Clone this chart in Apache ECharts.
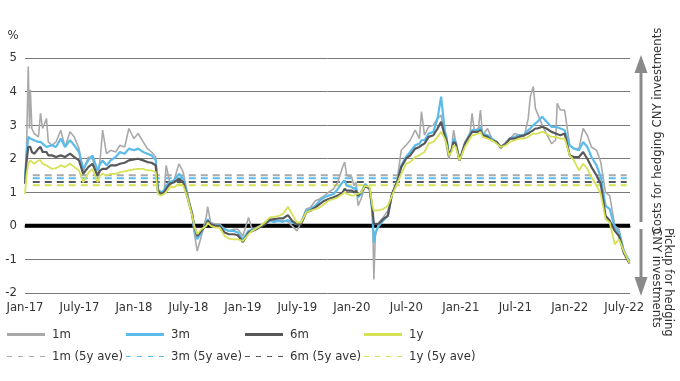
<!DOCTYPE html>
<html><head><meta charset="utf-8">
<script src="https://cdn.jsdelivr.net/npm/echarts@6/dist/echarts.min.js"></script>
<style>html,body{margin:0;padding:0;background:#fff}#c{width:680px;height:381px}</style>
</head><body><div id="c"></div>
<script>
// ---- data ----
const dates = ['2017-01-01','2017-01-06','2017-01-12','2017-01-16','2017-01-19','2017-01-24','2017-02-01','2017-02-15','2017-02-22','2017-03-01','2017-03-14','2017-03-20','2017-04-01','2017-04-15','2017-05-01','2017-05-15','2017-06-01','2017-06-15','2017-07-01','2017-07-15','2017-08-01','2017-08-15','2017-09-01','2017-09-10','2017-09-18','2017-10-01','2017-10-15','2017-11-01','2017-11-15','2017-12-01','2017-12-15',
'2018-01-01','2018-01-15','2018-02-01','2018-02-15','2018-03-01','2018-03-15','2018-03-22','2018-04-01','2018-04-12','2018-04-19','2018-05-01','2018-05-15','2018-06-01','2018-06-15','2018-07-01','2018-07-15','2018-07-22','2018-08-01','2018-08-15','2018-09-01','2018-09-05','2018-09-15','2018-10-01','2018-10-15','2018-11-01','2018-11-15','2018-12-01','2018-12-15',
'2019-01-01','2019-01-20','2019-02-01','2019-02-15','2019-03-01','2019-03-15','2019-04-01','2019-04-15','2019-05-01','2019-05-15','2019-06-01','2019-06-15','2019-07-01','2019-07-15','2019-08-01','2019-08-15','2019-09-01','2019-09-15','2019-10-01','2019-10-15','2019-11-01','2019-11-15','2019-12-01','2019-12-08','2019-12-15',
'2020-01-01','2020-01-08','2020-01-15','2020-01-22','2020-02-01','2020-02-15','2020-03-01','2020-03-10','2020-03-15','2020-03-20','2020-04-01','2020-04-15','2020-05-01','2020-05-15','2020-06-01','2020-06-15','2020-07-01','2020-07-15','2020-08-01','2020-08-15','2020-08-22','2020-09-01','2020-09-15','2020-10-01','2020-10-15','2020-10-27','2020-11-08','2020-11-15','2020-11-22','2020-12-01','2020-12-08','2020-12-15','2020-12-28',
'2021-01-15','2021-02-01','2021-02-08','2021-02-15','2021-03-01','2021-03-08','2021-03-15','2021-04-01','2021-04-15','2021-05-01','2021-05-15','2021-06-01','2021-06-15','2021-07-01','2021-07-15','2021-08-01','2021-08-15','2021-08-22','2021-09-01','2021-09-08','2021-09-15','2021-10-01','2021-10-15','2021-11-01','2021-11-15','2021-11-20','2021-12-01','2021-12-15',
'2022-01-01','2022-01-15','2022-02-01','2022-02-15','2022-03-01','2022-03-15','2022-04-01','2022-04-15','2022-05-01','2022-05-15','2022-06-01','2022-06-15','2022-07-01','2022-07-20'];

const m1 = [1.40,2.30,4.75,2.90,4.05,2.90,2.75,2.65,3.35,2.90,3.20,2.50,2.40,2.50,2.85,2.35,2.80,2.65,2.30,1.60,2.05,2.00,1.45,2.00,2.85,2.15,2.25,2.20,2.40,2.35,2.90,
2.60,2.75,2.50,2.30,2.20,2.05,1.10,0.95,1.00,1.80,1.30,1.35,1.85,1.60,0.90,0.30,-0.20,-0.75,-0.30,0.30,0.57,0.10,0.05,0.05,-0.10,-0.15,-0.10,-0.10,
-0.30,0.25,-0.10,-0.05,0.00,0.10,0.20,0.15,0.15,0.15,0.12,0.00,-0.15,0.10,0.50,0.55,0.75,0.80,0.90,1.00,1.10,1.30,1.75,1.90,1.50,
1.45,1.20,1.30,0.60,0.80,1.20,1.10,0.60,-1.60,-0.30,0.10,0.25,0.45,0.95,1.35,2.25,2.40,2.55,2.85,2.60,3.40,2.70,2.95,3.00,3.20,3.30,2.70,2.30,2.00,2.30,2.85,2.50,1.95,
2.50,2.75,3.35,2.85,2.90,3.45,2.70,2.90,2.60,2.50,2.30,2.50,2.60,2.75,2.70,2.65,3.20,3.85,4.15,3.50,3.35,3.00,2.75,2.45,2.55,3.65,3.45,3.45,
2.40,2.30,2.30,2.90,2.70,2.35,2.25,1.90,1.00,0.90,0.00,-0.10,-0.70,-1.10];

const m3 = [1.38,2.10,2.65,2.60,2.60,2.55,2.55,2.50,2.50,2.45,2.35,2.40,2.40,2.35,2.60,2.35,2.55,2.40,2.20,1.70,1.95,2.10,1.65,1.85,1.95,1.80,1.95,2.05,2.20,2.15,2.30,
2.25,2.30,2.20,2.15,2.10,1.95,1.10,1.00,1.05,1.20,1.30,1.35,1.55,1.40,0.85,0.35,-0.10,-0.40,-0.20,0.10,0.20,0.05,0.00,0.02,-0.10,-0.15,-0.15,-0.20,
-0.40,-0.15,-0.12,-0.08,0.00,0.05,0.15,0.12,0.15,0.12,0.17,0.10,0.05,0.10,0.45,0.50,0.60,0.75,0.85,0.90,0.95,1.10,1.30,1.35,1.20,
1.15,1.10,1.15,0.85,0.95,1.25,1.10,0.40,-0.50,-0.20,0.00,0.15,0.30,0.95,1.30,1.80,2.05,2.20,2.40,2.45,2.55,2.55,2.75,2.80,3.20,3.85,2.85,2.60,2.10,2.25,2.60,2.50,1.95,
2.45,2.75,2.85,2.85,2.85,2.95,2.75,2.70,2.60,2.50,2.35,2.45,2.60,2.65,2.70,2.70,2.85,2.90,3.00,3.05,3.10,3.25,3.10,2.95,2.95,2.95,2.90,2.85,
2.40,2.30,2.25,2.50,2.35,2.05,1.80,1.45,0.60,0.50,-0.05,-0.20,-0.75,-1.05];

const m6 = [1.25,1.90,2.35,2.40,2.35,2.20,2.15,2.30,2.35,2.20,2.20,2.10,2.10,2.05,2.10,2.05,2.15,2.05,1.95,1.55,1.75,1.85,1.50,1.65,1.70,1.70,1.80,1.80,1.85,1.88,1.95,
1.98,2.00,1.95,1.90,1.88,1.80,1.05,0.95,1.00,1.10,1.25,1.30,1.40,1.30,0.80,0.35,0.00,-0.30,-0.15,0.05,0.15,0.05,0.00,0.00,-0.20,-0.25,-0.25,-0.28,
-0.48,-0.20,-0.15,-0.10,-0.02,0.05,0.18,0.20,0.22,0.22,0.32,0.15,0.05,0.05,0.40,0.45,0.55,0.65,0.75,0.80,0.85,0.90,1.00,1.10,1.05,
1.05,1.00,1.05,0.90,1.00,1.20,1.10,0.50,0.05,0.00,0.07,0.20,0.30,0.95,1.30,1.75,2.00,2.10,2.30,2.35,2.40,2.45,2.65,2.70,2.90,3.10,2.70,2.50,2.10,2.25,2.50,2.45,1.95,
2.45,2.70,2.80,2.80,2.80,2.85,2.70,2.65,2.55,2.50,2.35,2.45,2.60,2.60,2.65,2.70,2.75,2.80,2.85,2.90,2.90,2.95,2.90,2.80,2.75,2.75,2.70,2.75,
2.10,2.05,2.05,2.20,2.00,1.75,1.50,1.25,0.30,0.15,-0.15,-0.30,-0.80,-1.12];

const y1 = [0.95,1.50,1.85,1.90,1.95,1.90,1.85,1.95,1.95,1.85,1.80,1.75,1.70,1.72,1.80,1.75,1.85,1.75,1.65,1.30,1.58,1.70,1.30,1.50,1.55,1.50,1.55,1.55,1.60,1.62,1.65,
1.68,1.70,1.70,1.65,1.65,1.60,0.95,0.90,0.95,1.00,1.15,1.15,1.25,1.20,0.80,0.30,0.00,-0.25,-0.10,0.00,0.10,0.00,-0.05,-0.05,-0.30,-0.38,-0.40,-0.40,
-0.45,-0.25,-0.15,-0.08,0.00,0.10,0.25,0.27,0.30,0.35,0.57,0.35,0.10,0.10,0.40,0.45,0.50,0.55,0.65,0.75,0.80,0.85,0.95,1.00,0.95,
0.90,0.90,0.95,0.95,1.00,1.20,1.15,0.60,0.45,0.45,0.47,0.50,0.60,0.90,1.25,1.55,1.85,1.90,2.05,2.10,2.15,2.20,2.45,2.50,2.65,2.80,2.60,2.40,2.10,2.20,2.40,2.35,1.95,
2.35,2.60,2.70,2.70,2.75,2.80,2.65,2.60,2.55,2.45,2.35,2.40,2.50,2.55,2.60,2.60,2.65,2.70,2.75,2.75,2.75,2.80,2.75,2.65,2.65,2.65,2.60,2.60,
2.10,1.95,1.65,1.85,1.70,1.45,1.20,0.95,0.20,0.10,-0.55,-0.40,-0.75,-1.10];

const seriesNames = ['1m','3m','6m','1y'];
const aveNames = ['1m (5y ave)','3m (5y ave)','6m (5y ave)','1y (5y ave)'];
const aveValues = [1.51, 1.42, 1.31, 1.21];
const aveSpan = ['2017-01-27','2022-07-11'];
const tickLabels = ['Jan-17','July-17','Jan-18','July-18','Jan-19','July-19','Jan-20','Jul-20','Jan-21','Jul-21','Jan-22','July-22'];
const zeroLevel = 0;
const xStart = '2017-01-01', xEnd = '2022-07-22';

// ---- helpers ----
function toYear(s){
  const d = Date.parse(s + 'T00:00:00Z');
  const y = new Date(d).getUTCFullYear();
  const a = Date.UTC(y,0,1), b = Date.UTC(y+1,0,1);
  return y + (d - a) / (b - a);
}
const FONT = "'Liberation Sans Narrow', 'DejaVu Sans Condensed', 'Open Sans', sans-serif";
const colors = ['#a9a9a9', '#5bbbea', '#58585a', '#d6e157'];
const widths = [1.6, 2.2, 2.2, 1.8];
const xMin = toYear(xStart), xMax = toYear(xEnd);

const series = [];
series.push({
  name: 'zero', type: 'line', symbol: 'none', silent: true, z: 1,
  data: [[xMin, zeroLevel], [xMax, zeroLevel]],
  lineStyle: { color: '#000', width: 4 }
});
aveNames.forEach((n, i) => {
  series.push({
    name: n, type: 'line', symbol: 'none', silent: true, z: 2,
    data: [[toYear(aveSpan[0]), aveValues[i]], [toYear(aveSpan[1]), aveValues[i]]],
    lineStyle: { color: colors[i], width: 2, type: [7, 5] },
    itemStyle: { color: colors[i] }
  });
});
const vals = [m1, m3, m6, y1];
seriesNames.forEach((n, i) => {
  series.push({
    name: n, type: 'line', symbol: 'none', silent: true, z: 3,
    data: dates.map((d, k) => [toYear(d), vals[i][k]]),
    lineStyle: { color: colors[i], width: widths[i] },
    itemStyle: { color: colors[i] }
  });
});

const solidIcon = 'path://M0,0h38v3h-38z';
const dashIcon = 'path://M0,0h5v1.2h-5z M11,0h5v1.2h-5z M22,0h5v1.2h-5z M33,0h5v1.2h-5z';
const legendCols = [7, 126, 245, 364];
const legends = [];
seriesNames.forEach((n, i) => legends.push({
  data: [n], left: legendCols[i], top: 328, padding: 0, itemWidth: 38, itemHeight: 14,
  icon: solidIcon, selectedMode: false, itemGap: 0,
  textStyle: { fontSize: 13, color: '#333', fontFamily: FONT, padding: [0, 0, 0, 2] }
}));
aveNames.forEach((n, i) => legends.push({
  data: [n], left: legendCols[i], top: 350, padding: 0, itemWidth: 38, itemHeight: 14,
  icon: dashIcon, selectedMode: false, itemGap: 0,
  textStyle: { fontSize: 13, color: '#333', fontFamily: FONT, padding: [0, 0, 0, 2] }
}));

const chart = echarts.init(document.getElementById('c'), null, { renderer: 'canvas' });
chart.setOption({
  animation: false,
  backgroundColor: '#fff',
  textStyle: { fontFamily: FONT },
  grid: { left: 25, right: 50, top: 58, bottom: 88, containLabel: false },
  legend: legends,
  xAxis: {
    type: 'value', min: 2017, max: xMax, interval: 0.5,
    axisLine: { show: true, lineStyle: { color: '#b5b5b5', width: 2.5 } },
    axisTick: { show: false },
    splitLine: { show: false },
    axisLabel: {
      margin: 8, fontSize: 13, color: '#333', fontFamily: FONT, showMaxLabel: false,
      formatter: v => {
        const k = (v - 2017) * 2, r = Math.round(k);
        if (Math.abs(k - r) > 1e-6) return '';
        return tickLabels[r] || '';
      }
    }
  },
  yAxis: {
    type: 'value', min: -2, max: 5, interval: 1,
    axisLine: { show: false }, axisTick: { show: false },
    splitLine: { show: true, lineStyle: { color: '#7a7a7a', width: 1 } },
    axisLabel: { margin: 8, fontSize: 13, color: '#333', fontFamily: FONT }
  },
  graphic: [
    { type: 'text', x: 13, y: 36, style: { text: '%', font: '13px ' + FONT, fill: '#333', align: 'center', verticalAlign: 'middle' } },
    { type: 'rect', shape: { x: 639.5, y: 70, width: 3, height: 152 }, style: { fill: '#8a8a8a' } },
    { type: 'polygon', shape: { points: [[641, 55], [634.5, 73], [647.5, 73]] }, style: { fill: '#8a8a8a' } },
    { type: 'rect', shape: { x: 639.5, y: 229, width: 3, height: 50 }, style: { fill: '#8a8a8a' } },
    { type: 'polygon', shape: { points: [[641, 296], [634.5, 277], [647.5, 277]] }, style: { fill: '#8a8a8a' } },
    { type: 'text', x: 658, y: 131, rotation: Math.PI / 2,
      style: { text: 'Costs for hedging CNY investments', font: '13px ' + FONT, fill: '#333', align: 'center', verticalAlign: 'middle' } },
    { type: 'text', x: 662, y: 228, rotation: -Math.PI / 2,
      style: { text: 'Pickup for hedging\nCNY investments', font: '13px ' + FONT, lineHeight: 12, fill: '#333', align: 'left', verticalAlign: 'middle' } }
  ],
  series: series
});
</script></body></html>
